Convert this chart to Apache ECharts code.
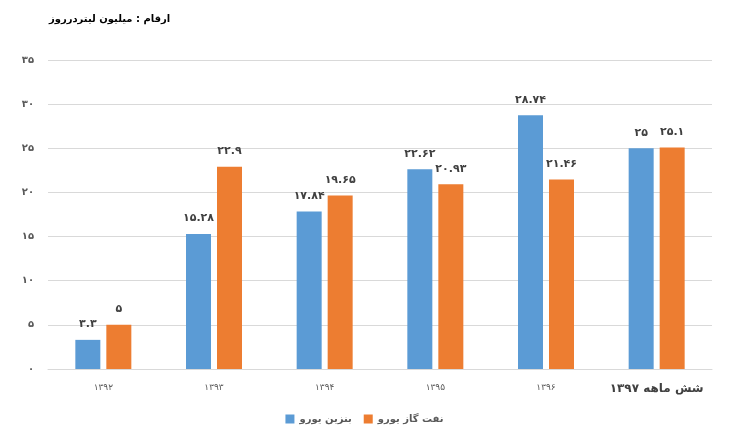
<!DOCTYPE html>
<html><head><meta charset="utf-8">
<script src="https://cdn.jsdelivr.net/npm/echarts@6/dist/echarts.min.js"></script>
<style>html,body{margin:0;padding:0;background:#fff}#c{width:729px;height:440px}</style>
</head><body><div id="c"></div>
<script>
const categories = ['۱۳۹۲', '۱۳۹۳', '۱۳۹۴', '۱۳۹۵', '۱۳۹۶', 'شش ماهه ۱۳۹۷'];
const benzinEuro = [3.3, 15.28, 17.84, 22.62, 28.74, 25];
const naftGazEuro = [5, 22.9, 19.65, 20.93, 21.46, 25.1];
const seriesNames = ['بنزین یورو', 'نفت گاز یورو'];
const titleText = 'ارقام : میلیون لیتردرروز';

const fa = s => String(s).replace(/[0-9]/g, d => '۰۱۲۳۴۵۶۷۸۹'[d]);
const FONT = 'DejaVu Sans';

const chart = echarts.init(document.getElementById('c'));
const labelCfg = {
  show: true, position: 'top', distance: 10,
  color: '#404040', fontWeight: 'bold', fontSize: 11, fontFamily: FONT,
  formatter: p => fa(p.value)
};
chart.setOption({
  animation: false,
  textStyle: { fontFamily: FONT },
  title: {
    text: titleText, left: 44, top: 9,
    textStyle: { fontSize: 10, fontWeight: 'bold', color: '#000', fontFamily: FONT }
  },
  legend: {
    bottom: 11, left: 'center', itemWidth: 9, itemHeight: 9, itemGap: 12,
    icon: 'rect',
    textStyle: { color: '#595959', fontWeight: 'bold', fontSize: 10, fontFamily: FONT },
    data: seriesNames
  },
  grid: { left: 48, right: 17, top: 60, bottom: 71 },
  xAxis: {
    type: 'category', data: categories,
    axisLine: { lineStyle: { color: '#d9d9d9' } },
    axisTick: { show: false },
    axisLabel: {
      margin: 14, color: '#595959', fontSize: 9, fontFamily: FONT,
      formatter: (v, i) => i === categories.length - 1 ? '{b|' + v + '}' : v,
      rich: { b: { fontSize: 12, fontWeight: 'bold', color: '#404040', fontFamily: FONT } }
    }
  },
  yAxis: {
    type: 'value', min: 0, max: 35, interval: 5,
    axisLine: { show: false }, axisTick: { show: false },
    splitLine: { lineStyle: { color: '#d9d9d9' } },
    axisLabel: { margin: 14, color: '#595959', fontWeight: 'bold', fontSize: 10, fontFamily: FONT, formatter: v => fa(v) }
  },
  series: [
    { name: seriesNames[0], type: 'bar', data: benzinEuro, barWidth: 25, barGap: '24%',
      itemStyle: { color: '#5B9BD5' }, label: labelCfg },
    { name: seriesNames[1], type: 'bar', data: naftGazEuro, barWidth: 25,
      itemStyle: { color: '#ED7D31' }, label: labelCfg }
  ]
});
</script></body></html>
